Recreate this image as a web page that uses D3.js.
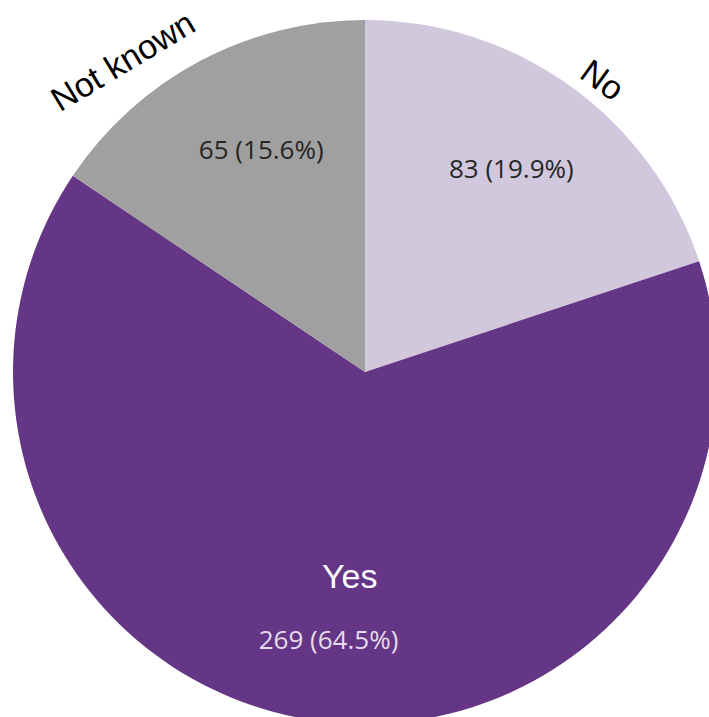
<!DOCTYPE html>
<html>
<head>
<meta charset="utf-8">
<script src="https://cdn.jsdelivr.net/npm/d3@7"></script>
<style>
  body { margin: 0; background: #fff; overflow: hidden; }
</style>
</head>
<body>
<script>
// data
var categories = ["No", "Yes", "Not known"];
var counts = [83, 269, 65];
var percents = ["19.9%", "64.5%", "15.6%"];
var colors = ["#d2c8de", "#653685", "#a0a0a0"];

var width = 709,
  height = 717,
  cx = 365,
  cy = 372,
  radius = 352;

var svg = d3.select("body").append("svg")
  .attr("width", width)
  .attr("height", height);

var g = svg.append("g")
  .attr("transform", "translate(" + cx + "," + cy + ")");

var pie = d3.pie().sort(null).value(function (d) { return d; });
var arcs = pie(counts);

var arc = d3.arc().innerRadius(0).outerRadius(radius);

g.selectAll("path.slice")
  .data(arcs)
  .enter()
  .append("path")
  .attr("class", "slice")
  .attr("d", arc)
  .attr("fill", function (d, i) { return colors[i]; });

var rad = Math.PI / 180;
function mid(d) { return (d.startAngle + d.endAngle) / 2; }
function polar(a, r) { return [Math.sin(a) * r, -Math.cos(a) * r]; }

// label placement tweaks (radius, angle nudge in degrees)
var valueR = [250, 270, 245];
var valueNudge = [0, 0, 3];
var catR = [radius + 12, 205, radius + 29];
var catNudge = [0, -3.5, 2];
var catTilt = [0, 0, -3];

// value labels
g.selectAll("text.value")
  .data(arcs)
  .enter()
  .append("text")
  .attr("class", "value")
  .attr("transform", function (d, i) {
    var p = polar(mid(d) + valueNudge[i] * rad, valueR[i]);
    return "translate(" + p[0] + "," + p[1] + ")";
  })
  .attr("text-anchor", "middle")
  .attr("dy", "0.35em")
  .style("font-family", "'Open Sans', sans-serif")
  .style("font-size", "26px")
  .attr("fill", function (d, i) { return i == 1 ? "#e4dcec" : "#262626"; })
  .text(function (d, i) { return counts[i] + " (" + percents[i] + ")"; });

// category labels
g.selectAll("text.cat")
  .data(arcs)
  .enter()
  .append("text")
  .attr("class", "cat")
  .attr("transform", function (d, i) {
    var a = mid(d);
    var p = polar(a + catNudge[i] * rad, catR[i]);
    if (i == 1) return "translate(" + p[0] + "," + p[1] + ")";
    var deg = a / rad + catTilt[i];
    if (deg > 180) deg -= 360;
    return "translate(" + p[0] + "," + p[1] + ") rotate(" + deg + ")";
  })
  .attr("text-anchor", function (d, i) {
    if (i == 1) return "middle";
    return mid(d) < Math.PI ? "start" : "end";
  })
  .attr("dy", function (d, i) { return i == 1 ? "0.35em" : "0"; })
  .style("font-family", "'Liberation Sans', Arial, sans-serif")
  .style("font-size", "34px")
  .attr("fill", function (d, i) { return i == 1 ? "#ffffff" : "#000000"; })
  .text(function (d, i) { return categories[i]; });
</script>
</body>
</html>
